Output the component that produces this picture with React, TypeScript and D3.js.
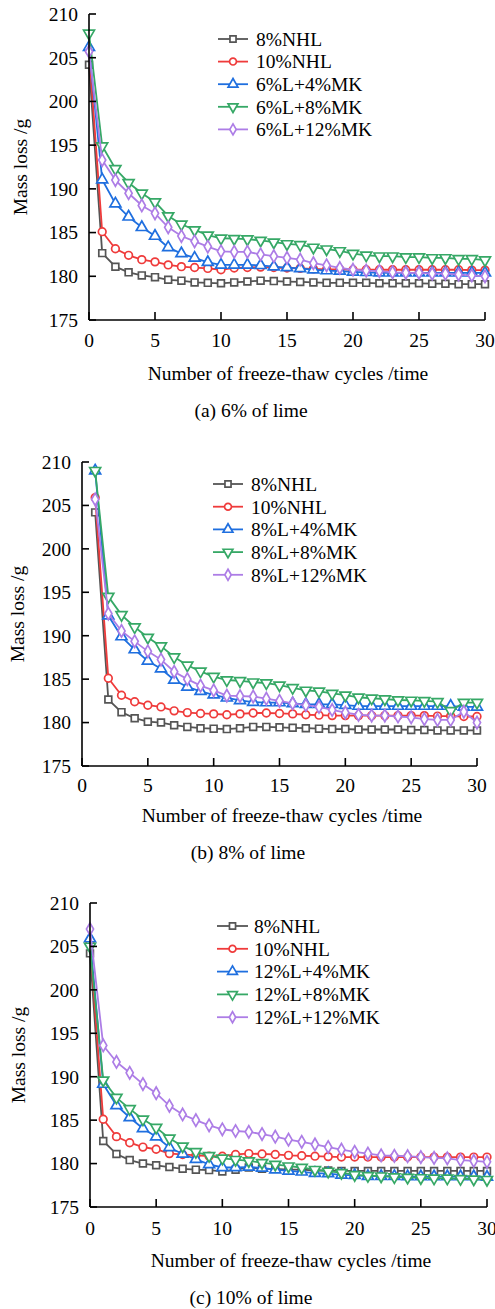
import React from "react";
import * as d3 from "d3";

const COLORS = ["#555555", "#ef3b3b", "#1f6fdf", "#36a866", "#ad7de6"];
const SYMBOLS = [d3.symbolSquare, d3.symbolCircle, d3.symbolTriangle, d3.symbolTriangle, d3.symbolDiamond];
const SYMBOL_ROT = [0, 0, 0, 180, 0];
const SYMBOL_SIZE = [46, 46, 52, 52, 44];

const Y_TICKS = [175, 180, 185, 190, 195, 200, 205, 210];
const X_TICKS = [0, 5, 10, 15, 20, 25, 30];

const A_NAMES = ["8%NHL", "10%NHL", "6%L+4%MK", "6%L+8%MK", "6%L+12%MK"];
const B_NAMES = ["8%NHL", "10%NHL", "8%L+4%MK", "8%L+8%MK", "8%L+12%MK"];
const C_NAMES = ["8%NHL", "10%NHL", "12%L+4%MK", "12%L+8%MK", "12%L+12%MK"];

// Panel (a): cycles 0..30
const A_NHL8 = [204.2,182.65,181.1,180.45,180.1,179.9,179.6,179.5,179.3,179.25,179.2,179.3,179.4,179.5,179.45,179.4,179.35,179.3,179.25,179.25,179.25,179.25,179.2,179.2,179.2,179.2,179.15,179.15,179.1,179.1,179.1];
const A_NHL10 = [205.9,185.1,183.15,182.4,181.9,181.65,181.3,181.1,181.0,180.9,180.75,180.95,181.0,181.05,181.0,180.95,180.9,180.85,180.8,180.8,180.75,180.75,180.75,180.75,180.75,180.75,180.75,180.75,180.75,180.7,180.7];
const A_4MK = [206.2,191.05,188.3,186.8,185.6,184.6,183.3,182.6,182.1,181.6,181.3,181.3,181.3,181.25,181.1,181.0,180.9,180.75,180.65,180.6,180.5,180.45,180.4,180.4,180.4,180.4,180.4,180.4,180.4,180.4,180.4];
const A_8MK = [207.8,194.9,192.3,190.7,189.5,188.5,186.9,185.95,185.3,184.7,184.35,184.3,184.25,184.1,183.9,183.7,183.6,183.3,183.1,182.9,182.6,182.4,182.3,182.3,182.2,182.2,182.1,182.1,182.0,182.0,181.85];
const A_12MK = [205.7,193.3,191.0,189.5,188.1,187.2,185.6,184.6,184.0,183.4,182.85,182.8,182.8,182.5,182.3,182.1,181.9,181.5,181.25,180.95,180.75,180.65,180.6,180.45,180.4,180.4,180.3,180.3,180.2,180.1,180.0];

// Panel (b): cycles 1..30
const B_NHL8 = [204.2,182.65,181.2,180.5,180.1,180.0,179.7,179.5,179.35,179.3,179.25,179.35,179.5,179.5,179.45,179.4,179.35,179.3,179.25,179.25,179.2,179.2,179.2,179.2,179.15,179.15,179.1,179.1,179.1,179.1];
const B_NHL10 = [205.9,185.1,183.15,182.4,182.0,181.8,181.35,181.15,181.05,181.0,180.9,181.0,181.1,181.1,181.05,181.0,180.9,180.85,180.8,180.8,180.8,180.8,180.8,180.8,180.8,180.8,180.75,180.75,180.7,180.7];
const B_4MK = [209.0,192.3,189.9,188.4,187.1,186.2,184.9,184.1,183.6,183.2,182.85,182.55,182.35,182.3,182.3,182.2,182.1,182.1,182.1,182.0,181.9,181.9,181.9,181.9,181.9,181.9,181.9,181.9,181.8,181.8];
const B_8MK = [209.0,194.5,192.4,191.0,189.8,188.8,187.55,186.6,185.9,185.3,184.9,184.8,184.65,184.55,184.3,184.0,183.7,183.6,183.35,183.15,182.9,182.8,182.7,182.6,182.55,182.5,182.4,181.35,182.3,182.3];
const B_12MK = [205.7,192.55,190.55,189.35,188.2,187.25,185.85,185.0,184.25,183.7,183.1,183.05,183.0,182.75,182.5,182.2,182.0,181.8,181.45,181.15,180.9,180.8,180.8,180.7,180.6,180.4,180.3,180.3,181.25,180.0];

// Panel (c): cycles 0..30
const C_NHL8 = [204.2,182.6,181.1,180.4,180.0,179.8,179.6,179.4,179.3,179.25,179.1,179.3,179.55,179.4,179.4,179.3,179.3,179.2,179.2,179.15,179.15,179.15,179.15,179.15,179.15,179.15,179.15,179.15,179.15,179.15,179.15];
const C_NHL10 = [205.5,185.1,183.1,182.4,181.9,181.65,181.15,181.05,180.95,180.85,180.85,181.05,181.15,181.1,181.05,180.95,180.9,180.85,180.8,180.75,180.75,180.75,180.75,180.75,180.75,180.75,180.75,180.75,180.75,180.75,180.75];
const C_4MK = [205.9,189.15,186.7,185.3,184.05,183.1,181.85,181.1,180.5,179.9,179.55,179.55,179.6,179.5,179.3,179.15,179.05,178.9,178.85,178.7,178.65,178.55,178.55,178.55,178.5,178.5,178.5,178.5,178.5,178.5,178.45];
const C_8MK = [205.0,189.6,187.6,186.3,185.1,184.15,182.9,182.0,181.35,180.9,180.6,180.45,180.3,180.1,179.9,179.7,179.55,179.3,179.1,178.95,178.7,178.6,178.55,178.45,178.4,178.35,178.3,178.3,178.25,178.2,178.15];
const C_12MK = [207.0,193.6,191.7,190.45,189.15,188.1,186.65,185.65,185.0,184.4,183.95,183.75,183.65,183.4,183.1,182.75,182.5,182.2,181.9,181.6,181.35,181.15,180.95,180.9,180.85,180.75,180.65,180.6,180.4,180.3,180.2];

const FONT = "'Liberation Serif', 'Times New Roman', serif";
const FS = 19.5;

type PanelCfg = {
  names: string[];
  series: number[][];
  start: number;
  left: number; right: number; top: number; bottom: number;
  legLineX: [number, number]; legTextX: number; legTop: number; legStep: number;
  yLabelX: number; titleX: number; captionX: number;
  caption: string;
  tickLabelDy: number; titleDy: number; captionDy: number;
};

const PANELS: PanelCfg[] = [
  {
    names: A_NAMES, series: [A_NHL8, A_NHL10, A_4MK, A_8MK, A_12MK], start: 0,
    left: 89, right: 485, top: 14, bottom: 320,
    legLineX: [218, 248], legTextX: 256, legTop: 39, legStep: 22.6,
    yLabelX: 20, titleX: 288, captionX: 251, caption: "(a) 6% of lime",
    tickLabelDy: 20, titleDy: 53, captionDy: 90,
  },
  {
    names: B_NAMES, series: [B_NHL8, B_NHL10, B_4MK, B_8MK, B_12MK], start: 1,
    left: 82, right: 477, top: 462, bottom: 766,
    legLineX: [213, 243], legTextX: 251, legTop: 484, legStep: 22.7,
    yLabelX: 17, titleX: 282, captionX: 248, caption: "(b) 8% of lime",
    tickLabelDy: 19, titleDy: 49, captionDy: 86,
  },
  {
    names: C_NAMES, series: [C_NHL8, C_NHL10, C_4MK, C_8MK, C_12MK], start: 0,
    left: 90, right: 487, top: 903, bottom: 1207,
    legLineX: [217, 248], legTextX: 254, legTop: 926, legStep: 22.8,
    yLabelX: 18, titleX: 291, captionX: 251, caption: "(c) 10% of lime",
    tickLabelDy: 21, titleDy: 53, captionDy: 90,
  },
];

function Marker({ i, x, y, scale = 1 }: { i: number; x: number; y: number; scale?: number }) {
  const path = d3.symbol(SYMBOLS[i], SYMBOL_SIZE[i] * scale)() as string;
  return (
    <path
      d={path}
      transform={`translate(${x},${y}) rotate(${SYMBOL_ROT[i]})`}
      fill="white"
      stroke={COLORS[i]}
      strokeWidth={1.7}
    />
  );
}

function Panel({ cfg }: { cfg: PanelCfg }) {
  const x = d3.scaleLinear().domain([0, 30]).range([cfg.left, cfg.right]);
  const y = d3.scaleLinear().domain([175, 210]).range([cfg.bottom, cfg.top]);
  const line = d3
    .line<number>()
    .x((_, j) => x(cfg.start + j))
    .y((v) => y(v));
  const midY = (cfg.top + cfg.bottom) / 2;
  return (
    <g fontFamily={FONT} fontSize={FS} fill="#000">
      {cfg.series.map((s, i) => (
        <g key={i}>
          <path d={line(s) as string} fill="none" stroke={COLORS[i]} strokeWidth={1.8} />
          {s.map((v, j) => (
            <Marker key={j} i={i} x={x(cfg.start + j)} y={y(v)} />
          ))}
        </g>
      ))}
      <line x1={cfg.left} x2={cfg.left} y1={cfg.top} y2={cfg.bottom} stroke="#000" strokeWidth={1.6} />
      <line x1={cfg.left} x2={cfg.right} y1={cfg.bottom} y2={cfg.bottom} stroke="#000" strokeWidth={1.6} />
      {Y_TICKS.map((t) => (
        <g key={"y" + t}>
          <line x1={cfg.left} x2={cfg.left + 7} y1={y(t)} y2={y(t)} stroke="#000" strokeWidth={1.6} />
          <text x={cfg.left - 11} y={y(t)} dy="0.35em" textAnchor="end">{t}</text>
        </g>
      ))}
      {X_TICKS.map((t) => (
        <g key={"x" + t}>
          <line x1={x(t)} x2={x(t)} y1={cfg.bottom} y2={cfg.bottom - 8} stroke="#000" strokeWidth={1.6} />
          <text x={x(t)} y={cfg.bottom + cfg.tickLabelDy} dy="0.35em" textAnchor="middle">{t}</text>
        </g>
      ))}
      <text
        transform={`translate(${cfg.yLabelX},${midY}) rotate(-90)`}
        dy="0.35em"
        textAnchor="middle"
      >
        Mass loss /g
      </text>
      <text x={cfg.titleX} y={cfg.bottom + cfg.titleDy} dy="0.35em" textAnchor="middle">
        Number of freeze-thaw cycles /time
      </text>
      <text x={cfg.captionX} y={cfg.bottom + cfg.captionDy} dy="0.35em" textAnchor="middle">
        {cfg.caption}
      </text>
      {cfg.names.map((n, i) => {
        const ly = cfg.legTop + i * cfg.legStep;
        const cx = (cfg.legLineX[0] + cfg.legLineX[1]) / 2;
        return (
          <g key={"l" + i}>
            <line x1={cfg.legLineX[0]} x2={cfg.legLineX[1]} y1={ly} y2={ly} stroke={COLORS[i]} strokeWidth={1.8} />
            <Marker i={i} x={cx} y={ly} scale={0.8} />
            <text x={cfg.legTextX} y={ly} dy="0.35em">{n}</text>
          </g>
        );
      })}
    </g>
  );
}

export default function App() {
  return (
    <svg
      width={495}
      height={1309}
      style={{ position: "absolute", left: 0, top: 0, background: "#fff" }}
    >
      <rect width={495} height={1309} fill="#fff" />
      {PANELS.map((p, k) => (
        <Panel key={k} cfg={p} />
      ))}
    </svg>
  );
}
